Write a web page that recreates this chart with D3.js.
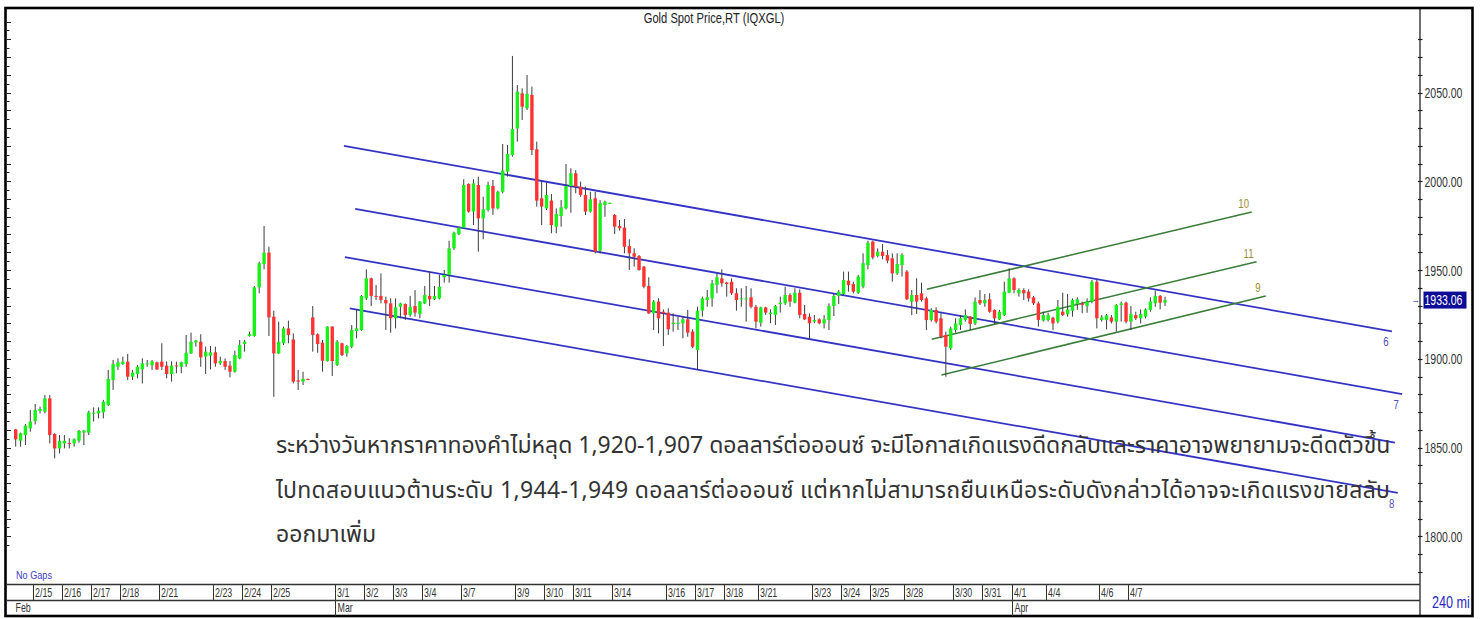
<!DOCTYPE html>
<html><head><meta charset="utf-8">
<script src="https://cdn.jsdelivr.net/npm/d3@7"></script>
<style>
body{margin:0;background:#fff;}
svg{display:block;}
</style></head>
<body>
<svg id="c" width="1480" height="619"></svg>
<script>
const title = "Gold Spot Price,RT (IQXGL)";
const opens = [1860.2,1853.8,1857.0,1860.8,1864.9,1870.7,1870.2,1877.7,1857.6,1849.5,1852.3,1852.5,1852.3,1853.8,1858.4,1858.4,1869.2,1869.2,1869.8,1873.9,1888.0,1895.5,1897.0,1898.4,1889.9,1891.4,1894.0,1896.8,1896.3,1898.0,1898.4,1896.1,1891.4,1896.3,1895.5,1897.0,1903.0,1909.1,1909.6,1901.2,1901.7,1903.6,1897.4,1898.7,1896.1,1892.7,1900.2,1908.3,1912.8,1912.8,1940.2,1953.4,1959.8,1923.7,1903.0,1908.7,1917.1,1910.9,1887.8,1887.1,1888.6,1923.3,1913.8,1909.1,1898.7,1918.1,1896.5,1908.7,1903.0,1906.8,1915.6,1916.2,1934.0,1945.3,1935.4,1935.4,1933.1,1931.2,1922.8,1929.3,1930.8,1924.7,1929.7,1925.2,1931.2,1935.4,1933.5,1934.0,1945.9,1947.2,1962.2,1970.1,1973.9,1998.5,1982.9,1997.9,1979.1,1983.8,1997.3,1984.7,1994.1,2005.4,2014.8,2029.8,2049.5,2041.1,2048.6,2018.0,1990.4,1984.7,1989.1,1974.4,1980.4,1984.7,1997.3,2004.5,1996.9,1992.3,1982.9,1990.4,1960.9,1986.6,1987.6,1981.0,1974.8,1973.9,1963.5,1959.4,1957.9,1951.9,1941.0,1925.6,1932.2,1926.5,1926.0,1919.6,1920.0,1920.0,1922.2,1915.3,1904.9,1927.1,1933.1,1934.0,1941.6,1945.3,1942.9,1943.4,1936.9,1933.5,1933.5,1934.6,1929.3,1920.3,1928.9,1925.2,1924.7,1930.8,1931.2,1935.9,1931.6,1937.2,1925.2,1923.7,1920.9,1922.2,1919.9,1921.8,1929.7,1935.4,1936.5,1944.0,1942.1,1937.2,1940.6,1952.8,1966.0,1957.9,1960.3,1958.4,1956.6,1948.1,1952.8,1949.1,1932.2,1935.9,1936.9,1934.0,1921.8,1927.5,1922.8,1913.4,1905.9,1916.2,1919.0,1921.8,1923.7,1919.9,1933.1,1931.2,1933.5,1927.5,1922.2,1924.6,1937.2,1945.3,1936.9,1938.7,1937.8,1934.6,1931.2,1921.5,1921.8,1923.1,1920.9,1926.5,1925.0,1927.1,1930.8,1931.2,1929.7,1932.2,1943.4,1921.8,1921.8,1923.3,1920.9,1930.3,1931.6,1920.9,1924.6,1922.8,1923.7,1927.5,1931.2,1935.4,1931.6];
const highs = [1860.5,1858.4,1863.2,1871.1,1874.5,1873.0,1879.6,1879.6,1858.0,1857.0,1857.0,1855.2,1855.2,1859.9,1859.9,1870.7,1872.6,1872.6,1876.8,1893.7,1899.3,1900.2,1901.2,1902.7,1893.7,1896.5,1900.2,1899.3,1899.3,1898.4,1908.7,1898.5,1898.5,1898.4,1898.4,1913.4,1914.7,1910.6,1913.8,1906.8,1907.2,1906.8,1901.2,1900.2,1898.7,1904.6,1910.6,1910.6,1915.3,1941.0,1954.7,1974.8,1963.1,1927.1,1920.9,1918.1,1921.5,1914.3,1893.7,1892.7,1888.8,1929.7,1914.3,1910.6,1918.3,1918.3,1910.6,1909.1,1907.7,1919.0,1927.8,1935.9,1950.4,1945.7,1941.5,1948.1,1935.0,1934.0,1934.0,1931.6,1931.2,1935.4,1938.7,1932.5,1941.0,1949.1,1941.0,1947.2,1950.0,1966.5,1971.6,1974.4,2001.1,1998.8,2001.1,2002.6,1991.3,1999.8,2000.7,1994.7,2021.0,2020.4,2070.6,2054.2,2052.3,2059.9,2053.3,2022.3,1999.8,1999.2,1992.8,1984.7,1989.4,2009.7,2007.3,2006.3,1999.8,1996.9,1994.1,1994.1,1989.4,1989.1,1988.0,1981.5,1978.2,1978.7,1967.3,1962.2,1958.5,1952.3,1945.9,1933.1,1934.1,1927.8,1928.4,1925.6,1923.7,1923.7,1927.5,1916.6,1929.3,1935.0,1938.7,1944.4,1948.1,1950.4,1943.4,1945.3,1939.7,1939.7,1941.0,1939.7,1930.3,1929.3,1929.3,1927.8,1930.3,1935.0,1940.6,1936.9,1939.7,1939.1,1930.3,1925.6,1924.7,1922.8,1924.6,1931.2,1936.5,1938.7,1949.1,1949.1,1943.4,1947.2,1959.4,1966.5,1966.5,1962.2,1964.6,1961.3,1959.4,1959.4,1959.4,1950.0,1938.7,1945.3,1942.9,1935.0,1928.4,1929.0,1925.6,1915.3,1918.1,1922.8,1924.6,1927.8,1924.1,1934.6,1938.7,1936.5,1936.9,1927.8,1927.5,1943.4,1950.9,1945.9,1939.7,1939.7,1939.1,1935.4,1932.2,1926.5,1925.9,1923.7,1933.1,1937.2,1936.5,1934.0,1934.6,1932.2,1934.0,1944.4,1944.4,1924.6,1925.2,1924.6,1930.8,1932.2,1932.2,1929.7,1926.5,1927.8,1928.4,1934.6,1938.4,1935.9,1935.0];
const lows = [1850.5,1850.5,1851.4,1858.9,1863.0,1869.2,1869.2,1852.3,1843.9,1846.7,1849.5,1849.5,1850.5,1852.7,1851.4,1857.0,1864.6,1866.4,1866.4,1873.4,1882.4,1893.7,1896.5,1888.0,1888.0,1889.0,1886.1,1895.5,1893.7,1893.7,1893.7,1889.0,1887.1,1891.8,1891.8,1895.5,1902.7,1906.8,1895.5,1891.4,1894.0,1895.5,1896.5,1893.7,1889.5,1892.2,1899.7,1904.0,1912.4,1912.4,1936.9,1950.4,1912.8,1878.6,1902.7,1907.7,1908.7,1886.1,1882.4,1885.2,1888.0,1904.0,1903.4,1892.7,1898.4,1890.3,1895.9,1901.5,1901.2,1905.9,1911.5,1915.8,1933.1,1929.7,1933.1,1931.2,1916.2,1914.7,1917.1,1922.8,1921.8,1923.7,1923.7,1922.8,1930.8,1929.7,1933.1,1933.5,1942.9,1942.9,1961.3,1969.7,1973.5,1982.3,1975.3,1960.3,1967.3,1982.9,1981.0,1984.2,1993.2,2002.6,2013.9,2022.3,2034.5,2040.1,2014.8,1985.7,1975.3,1983.8,1970.7,1970.7,1974.4,1984.2,1982.3,1993.2,1991.3,1981.0,1982.3,1959.4,1959.4,1980.0,1987.4,1970.3,1972.2,1959.4,1950.0,1951.9,1949.6,1939.7,1925.2,1916.2,1914.3,1907.2,1913.4,1915.3,1916.2,1911.5,1912.4,1905.9,1893.7,1923.7,1929.3,1929.3,1936.9,1940.6,1935.0,1935.9,1927.1,1929.3,1920.9,1928.4,1917.1,1918.1,1924.7,1920.0,1919.0,1926.0,1930.3,1929.3,1931.2,1922.8,1921.8,1911.0,1920.0,1919.4,1917.1,1916.2,1924.1,1930.8,1935.9,1937.8,1936.9,1936.5,1939.7,1950.4,1956.0,1957.1,1956.0,1953.8,1943.4,1947.2,1946.3,1933.1,1924.6,1925.2,1932.2,1916.2,1920.9,1919.9,1911.5,1889.9,1904.9,1914.7,1916.2,1920.9,1916.2,1919.0,1930.3,1929.3,1925.9,1919.6,1921.8,1924.1,1936.9,1936.9,1935.0,1933.1,1932.2,1930.3,1918.1,1920.9,1920.9,1916.2,1919.9,1924.1,1923.7,1923.7,1927.5,1925.6,1925.9,1931.2,1917.1,1920.9,1916.6,1919.9,1915.3,1920.9,1919.9,1916.2,1921.8,1919.9,1922.8,1926.5,1929.3,1927.8,1929.7];
const closes = [1854.6,1858.0,1862.3,1864.6,1871.1,1871.7,1877.7,1857.0,1849.5,1853.8,1853.8,1852.2,1854.6,1859.3,1859.5,1869.8,1869.6,1870.7,1875.8,1888.6,1897.0,1898.0,1898.4,1889.9,1892.2,1895.5,1897.4,1897.4,1898.5,1894.0,1895.5,1891.4,1896.1,1895.9,1898.0,1903.4,1909.6,1910.2,1900.8,1904.0,1903.6,1897.4,1898.7,1895.5,1892.7,1902.1,1907.7,1909.6,1913.9,1940.2,1953.8,1959.8,1923.3,1903.0,1909.6,1917.1,1913.4,1887.1,1887.1,1888.6,1888.3,1913.4,1908.3,1898.9,1918.1,1898.7,1909.6,1902.1,1907.2,1916.2,1917.1,1935.4,1945.3,1935.4,1935.0,1933.1,1931.2,1922.8,1929.0,1931.2,1924.6,1929.3,1926.0,1932.2,1935.9,1933.5,1935.4,1940.6,1947.2,1962.2,1971.0,1973.9,1997.9,1982.9,1998.8,1979.1,1984.2,1997.9,1984.7,1994.1,2006.0,2015.4,2029.4,2050.5,2042.0,2049.2,2017.6,1989.1,1985.7,1992.3,1975.3,1981.5,1985.3,1997.3,2004.5,1996.9,1992.3,1982.9,1989.8,1960.3,1987.6,1988.5,1987.8,1974.4,1973.5,1963.1,1959.4,1957.5,1950.0,1940.6,1925.6,1932.2,1922.8,1925.6,1916.6,1920.3,1920.3,1922.2,1914.7,1906.8,1927.1,1934.0,1934.6,1942.5,1945.9,1942.5,1942.1,1936.9,1933.1,1934.0,1934.0,1929.3,1920.9,1928.9,1926.0,1926.0,1929.7,1931.6,1935.9,1932.2,1937.2,1924.7,1922.2,1920.0,1921.8,1920.0,1922.2,1929.7,1935.4,1937.8,1944.4,1941.5,1937.8,1946.3,1953.8,1965.4,1957.1,1960.3,1957.9,1955.3,1948.1,1953.4,1958.5,1933.5,1935.9,1932.2,1933.1,1921.8,1927.5,1920.9,1912.4,1906.8,1917.1,1919.9,1922.8,1924.6,1919.6,1932.2,1931.2,1933.1,1926.5,1922.8,1926.5,1937.8,1945.3,1938.7,1938.7,1936.9,1934.0,1931.2,1921.8,1924.6,1924.6,1919.9,1929.3,1924.6,1927.8,1933.1,1933.5,1930.3,1932.2,1943.4,1922.8,1923.3,1924.5,1920.9,1930.3,1931.2,1920.9,1925.2,1922.8,1925.2,1927.8,1932.2,1935.4,1931.6,1933.06];

const priceTicks = [1800, 1850, 1900, 1950, 2000, 2050];
const dateLabels = ["2/15","2/16","2/17","2/18","2/21","2/23","2/24","2/25","3/1","3/2","3/3","3/4","3/7","3/9","3/10","3/11","3/14","3/16","3/17","3/18","3/21","3/23","3/24","3/25","3/28","3/30","3/31","4/1","4/4","4/6","4/7"];
const dateStarts = [4,10,16,22,30,41,47,53,66,72,78,84,92,103,109,115,123,134,140,146,153,164,170,176,183,193,199,205,212,223,229];
const monthLabels = ["Feb","Mar","Apr"];
const monthStarts = [0,66,205];
const lastPrice = 1933.06;

// channel lines: [startIndex, startPrice, endIndex, endPrice]
const blueLines = [[67.4,2019.9,282.6,1915.4],[69.7,1984.4,284.7,1880.1],[67.6,1957.3,283.2,1852.8],[68.6,1928.4,283.8,1824.4]];
const blueNames = ["6","7","","8"];
const greenLines = [[187.1,1939.1,253.8,1982.7],[188.1,1911.0,254.8,1954.7],[190.1,1890.8,256.7,1935.4]];
const greenNames = ["10","11","9"];

const noteLines = [
  "ระหว่างวันหากราคาทองคำไม่หลุด 1,920-1,907 ดอลลาร์ต่อออนซ์ จะมีโอกาสเกิดแรงดีดกลับและราคาอาจพยายามจะดีดตัวขึ้น",
  "ไปทดสอบแนวต้านระดับ 1,944-1,949 ดอลลาร์ต่อออนซ์ แต่หากไม่สามารถยืนเหนือระดับดังกล่าวได้อาจจะเกิดแรงขายสลับ",
  "ออกมาเพิ่ม"
];

const svg = d3.select("#c");
const sans = "'Liberation Sans',Arial,sans-serif";
const W = 1480, H = 619;
const plotL = 7, plotR = 1420, plotT = 9, plotB = 584;

const x = d3.scaleLinear().domain([0, opens.length - 1]).range([15.7, 1165]);
const y = d3.scaleLinear().domain([1800, 2050]).range([536.25, 92.5]);

// condensed text helper
function ntext(g, px, py, str, size, fill, sx, anchor) {
  return g.append("text")
    .attr("transform", `translate(${px},${py}) scale(${sx},1)`)
    .attr("font-family", sans).attr("font-size", size).attr("fill", fill)
    .attr("text-anchor", anchor || "start").text(str);
}

svg.append("rect").attr("width", W).attr("height", H).attr("fill", "#fff");

const candles = opens.map((o, i) => ({i, o, h: highs[i], l: lows[i], c: closes[i]}));

svg.append("clipPath").attr("id","pc").append("rect").attr("x",plotL).attr("y",plotT).attr("width",plotR-plotL).attr("height",plotB-plotT);
const plot = svg.append("g").attr("clip-path","url(#pc)");

// channel lines
plot.selectAll("line.bl").data(blueLines).join("line")
  .attr("x1", d => x(d[0])).attr("y1", d => y(d[1]))
  .attr("x2", d => x(d[2])).attr("y2", d => y(d[3]))
  .attr("stroke", "#3434c4").attr("stroke-width", 1.8);
plot.selectAll("line.gl").data(greenLines).join("line")
  .attr("x1", d => x(d[0])).attr("y1", d => y(d[1]))
  .attr("x2", d => x(d[2])).attr("y2", d => y(d[3]))
  .attr("stroke", "#3a7d3a").attr("stroke-width", 1.5);

// candles
const cg = plot.append("g");
cg.selectAll("line.w").data(candles).join("line")
  .attr("x1", d => x(d.i)).attr("x2", d => x(d.i))
  .attr("y1", d => y(d.h)).attr("y2", d => y(d.l))
  .attr("stroke", "#3c3c3c").attr("stroke-width", 1);
cg.selectAll("rect.b").data(candles).join("rect")
  .attr("x", d => x(d.i) - 1.7).attr("width", 3.4)
  .attr("y", d => y(Math.max(d.o, d.c)))
  .attr("height", d => Math.max(1, Math.abs(y(d.o) - y(d.c))))
  .attr("fill", d => d.c >= d.o ? "#19f019" : "#ff3333");

// line labels
blueLines.forEach((d, k) => {
  if (!blueNames[k]) return;
  ntext(svg, x(d[2]) - 6, y(d[3]) + 15, blueNames[k], 12, "#5050b8", 0.8, "middle");
});
greenLines.forEach((d, k) => {
  ntext(svg, x(d[2]) - 8, y(d[3]) - 4, greenNames[k], 12, "#9c8c34", 0.8, "middle");
});

// title
ntext(svg, 714, 23, title, 14, "#222", 0.8, "middle");

// left ticks every 5
const leftTicks = d3.range(1795, 2095, 5);
svg.selectAll("line.lt").data(leftTicks).join("line")
  .attr("x1", plotL).attr("x2", d => plotL + (d % 10 === 0 ? 4 : 2.5))
  .attr("y1", d => Math.round(y(d)) + 0.5).attr("y2", d => Math.round(y(d)) + 0.5)
  .attr("stroke", "#222").attr("stroke-width", 1);

// right axis (ticks via d3 axis, labels condensed)
const yAxis = d3.axisRight(y).tickValues(priceTicks).tickFormat(d3.format(".2f")).tickSize(0);
const ax = svg.append("g").attr("transform", `translate(${plotR},0)`).call(yAxis);
ax.select(".domain").remove();
ax.selectAll("text")
  .attr("x", null).attr("dy", null)
  .attr("transform", "translate(4.5,5) scale(0.75,1)")
  .attr("font-family", sans).attr("font-size", 14).attr("fill", "#333");
const minor = d3.range(1780, 2090, 10);
svg.selectAll("line.rt").data(minor).join("line")
  .attr("x1", plotR - 2).attr("x2", plotR + 2.5)
  .attr("y1", d => Math.round(y(d)) + 0.5).attr("y2", d => Math.round(y(d)) + 0.5)
  .attr("stroke", "#222").attr("stroke-width", 1.2);

// last price box
const ly = y(lastPrice);
svg.append("rect").attr("x", plotR + 3.5).attr("y", ly - 8.5).attr("width", 43).attr("height", 17).attr("fill", "#0c0c96");
ntext(svg, plotR + 4.5, ly + 5, d3.format(".2f")(lastPrice), 14, "#fff", 0.75);
ntext(svg, plotR - 9, ly + 3, "→", 9, "#2a2ab0", 1);

// frame
svg.append("line").attr("x1", plotR).attr("x2", plotR).attr("y1", plotT).attr("y2", 616).attr("stroke", "#222").attr("stroke-width", 1.3);
svg.append("line").attr("x1", plotL).attr("x2", plotR).attr("y1", plotB + 0.5).attr("y2", plotB + 0.5).attr("stroke", "#333").attr("stroke-width", 1.3);
svg.append("line").attr("x1", plotL).attr("x2", plotR).attr("y1", 600.5).attr("y2", 600.5).attr("stroke", "#333").attr("stroke-width", 1.3);
svg.append("rect").attr("x", 5.5).attr("y", 8).attr("width", 1467).attr("height", 608).attr("fill", "none").attr("stroke", "#000").attr("stroke-width", 2.6);

// date row
const dg = svg.append("g");
dateStarts.forEach((b, k) => {
  const sx = Math.round(x(b - 0.5)) + 0.5;
  dg.append("line").attr("x1", sx).attr("x2", sx).attr("y1", plotB).attr("y2", 600).attr("stroke", "#333").attr("stroke-width", 1);
  ntext(dg, sx + 1.5, 597, dateLabels[k], 12, "#333", 0.74);
});
monthStarts.forEach((b, k) => {
  const sx = Math.round(x(b - 0.5)) + 0.5;
  if (k > 0) dg.append("line").attr("x1", sx).attr("x2", sx).attr("y1", 600).attr("y2", 616).attr("stroke", "#333").attr("stroke-width", 1);
  ntext(dg, sx + 2, 612, monthLabels[k], 12, "#333", 0.74);
});

ntext(svg, 16, 579, "No Gaps", 11, "#4040c4", 0.83);
ntext(svg, 1432, 608, "240 mi", 16, "#2a2ac0", 0.79);

// annotation
const thai = "'Noto Sans Thai','Noto Sans Thai UI','Noto Sans','DejaVu Sans',sans-serif";
const ng = svg.append("g");
const baseY = [453, 498, 542];
const texts = noteLines.map((t, k) => ng.append("text").attr("x", 276).attr("y", baseY[k])
  .attr("font-family", thai).attr("font-size", 20).attr("fill", "#333").text(t));
const w0 = texts[0].node().getComputedTextLength();
const fs = 20 * 1115 / w0;
texts.forEach(t => t.attr("font-size", fs));
texts[1].attr("textLength", 1114).attr("lengthAdjust", "spacing");
</script>
</body></html>
